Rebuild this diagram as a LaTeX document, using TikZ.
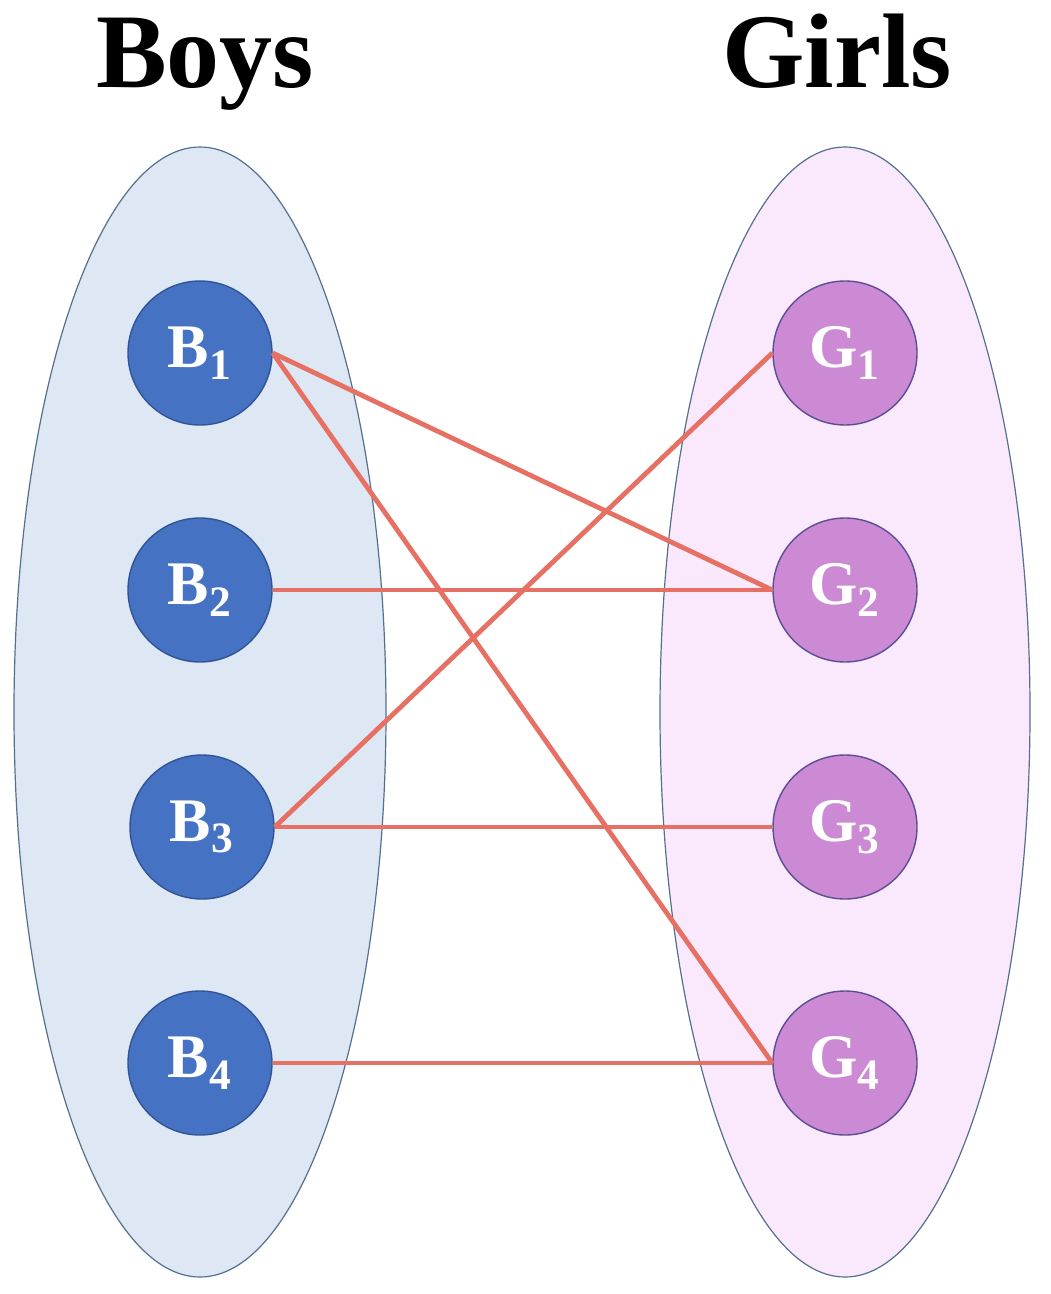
\documentclass[tikz,border=0pt]{standalone}
\usepackage{xcolor}
\usepackage{fontspec}
\setmainfont{Liberation Serif}
\usepackage{tikz}
\definecolor{boyset}{RGB}{222,232,244}
\definecolor{girlset}{RGB}{250,233,252}
\definecolor{setline}{RGB}{84,112,140}
\definecolor{boyfill}{RGB}{70,114,196}
\definecolor{boyline}{RGB}{50,84,150}
\definecolor{girlfill}{RGB}{204,137,212}
\definecolor{girlline}{RGB}{92,78,150}
\definecolor{match}{RGB}{230,112,100}
\tikzset{
	boy/.style={circle, draw=boyline, line width=0.7pt, fill=boyfill, minimum size=72pt, inner sep=0pt, text=white, font=\fontsize{31}{31}\selectfont\bfseries},
	girl/.style={circle, draw=girlline, line width=0.7pt, fill=girlfill, minimum size=72pt, inner sep=0pt, text=white, font=\fontsize{31}{31}\selectfont\bfseries},
	title/.style={anchor=base, font=\fontsize{53}{53}\selectfont\bfseries},
	edge/.style={draw=match, line width=2.4pt}
}
\begin{document}
\begin{tikzpicture}[x=0.5pt, y=-0.5pt]
				\useasboundingbox (0,0) rectangle (1050,1294);
				\draw[setline, fill=boyset, line width=0.6pt] (200,712) ellipse [x radius=186, y radius=565];
				\draw[setline, fill=girlset, line width=0.6pt] (845,712) ellipse [x radius=185, y radius=565];
				\node[title] (boys) at (205,88) {Boys};
				\node[title] (girls) at (837,88) {Girls};
				\node[boy] (b1) at (200, 353) {B\textsubscript{1}};
				\node[boy] (b2) at (200, 590) {B\textsubscript{2}};
				\node[boy] (b3) at (202, 827) {B\textsubscript{3}};
				\node[boy] (b4) at (200, 1063) {B\textsubscript{4}};
				\node[girl] (g1) at (845, 353) {G\textsubscript{1}};
				\node[girl] (g2) at (845, 590) {G\textsubscript{2}};
				\node[girl] (g3) at (845, 827) {G\textsubscript{3}};
				\node[girl] (g4) at (845, 1063) {G\textsubscript{4}};
				\draw[edge] (b1.east) to (g2.west);
				\draw[edge] (b1.east) to (g4.west);
				\draw[edge] (b2.east) to (g2.west);
				\draw[edge] (b3.east) to (g1.west);
				\draw[edge] (b3.east) to (g3.west);
				\draw[edge] (b4.east) to (g4.west);
			\end{tikzpicture}
\end{document}
